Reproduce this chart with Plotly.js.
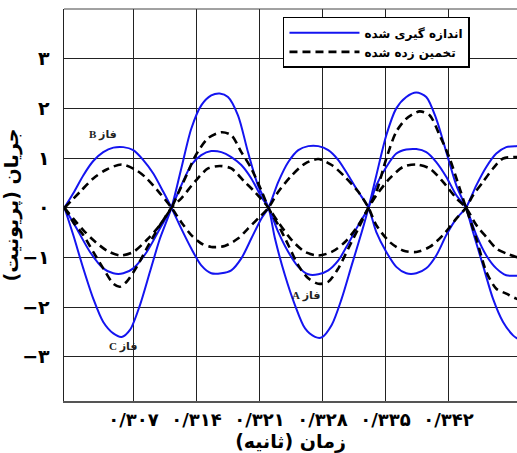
<!DOCTYPE html>
<html><head><meta charset="utf-8">
<script src="https://cdn.plot.ly/plotly-3.0.1.min.js"></script>
<style>html,body{margin:0;padding:0;background:#fff}</style>
</head><body><div id="chart" style="width:517px;height:453px"></div>
<script>
// tick labels
const xTickVals = [0.307, 0.314, 0.321, 0.328, 0.335, 0.342];
const xTickText = ['۰/۳۰۷', '۰/۳۱۴', '۰/۳۲۱', '۰/۳۲۸', '۰/۳۳۵', '۰/۳۴۲'];
const yTickVals = [-3, -2, -1, 0, 1, 2, 3];
const yTickText = ['−۳', '−۲', '−۱', '۰', '۱', '۲', '۳'];

// measured (solid blue)
const measBx = [0.29933,0.30031,0.30142,0.30253,0.30364,0.30476,0.30587,0.30698,0.30809,0.30920,0.31031,0.31122,
  0.31231,0.31342,0.31453,0.31564,0.31676,0.31787,0.31898,0.32009,0.32120,0.32200,
  0.32309,0.32420,0.32531,0.32642,0.32753,0.32864,0.32976,0.33087,0.33198,0.33311,
  0.33398,0.33509,0.33620,0.33731,0.33842,0.33953,0.34064,0.34176,0.34287,0.34394,
  0.34509,0.34620,0.34731,0.34842,0.34953,0.35000];
const measBy = [0,0.29,0.65,0.94,1.12,1.21,1.22,1.16,0.96,0.69,0.32,0,
  -0.42,-0.82,-1.16,-1.32,-1.32,-1.26,-1.02,-0.62,-0.22,0,
  0.52,0.92,1.16,1.24,1.24,1.16,0.96,0.65,0.32,0,
  -0.49,-0.89,-1.19,-1.32,-1.32,-1.22,-0.96,-0.55,-0.22,0,
  0.45,0.82,1.09,1.22,1.24,1.24];

const measAx = [0.29933,0.30069,0.30217,0.30364,0.30476,0.30587,0.30698,0.30847,0.30994,0.31122,
  0.31231,0.31342,0.31453,0.31564,0.31676,0.31787,0.31898,0.32009,0.32120,0.32200,
  0.32309,0.32420,0.32531,0.32642,0.32753,0.32864,0.32976,0.33087,0.33198,0.33311,
  0.33398,0.33509,0.33620,0.33731,0.33842,0.33953,0.34064,0.34176,0.34287,0.34394,
  0.34509,0.34620,0.34731,0.34842,0.34953,0.35000];
const measAy = [0,-0.42,-0.89,-1.22,-1.32,-1.32,-1.22,-0.89,-0.42,0,
  0.45,0.86,1.06,1.14,1.12,1.02,0.86,0.59,0.22,0,
  -0.49,-0.89,-1.19,-1.34,-1.34,-1.26,-1.06,-0.72,-0.35,0,
  0.45,0.82,1.09,1.17,1.18,1.12,0.92,0.62,0.25,0,
  -0.55,-0.96,-1.22,-1.36,-1.37,-1.37];

const measCx = [0.29933,0.30031,0.30142,0.30253,0.30364,0.30476,0.30569,0.30661,0.30772,0.30883,0.30994,0.31122,
  0.31231,0.31342,0.31453,0.31564,0.31658,0.31750,0.31861,0.31972,0.32083,0.32200,
  0.32272,0.32383,0.32494,0.32606,0.32717,0.32791,0.32902,0.33013,0.33124,0.33236,0.33311,
  0.33398,0.33509,0.33620,0.33731,0.33842,0.33953,0.34064,0.34176,0.34287,0.34394,
  0.34472,0.34583,0.34694,0.34806,0.34917,0.34953,0.35000];
const measCy = [0,-0.55,-1.22,-1.83,-2.30,-2.53,-2.60,-2.46,-1.96,-1.29,-0.62,0,
  0.79,1.59,2.06,2.26,2.30,2.23,1.86,1.12,0.45,0,
  -0.62,-1.36,-1.96,-2.43,-2.60,-2.61,-2.36,-1.83,-1.16,-0.49,0,
  0.65,1.46,2.00,2.23,2.32,2.23,1.79,1.12,0.45,0,
  -0.49,-1.16,-1.83,-2.30,-2.57,-2.62,-2.66];

// estimated (dashed black)
const estBx = [0.29933,0.30106,0.30253,0.30402,0.30569,0.30736,0.30847,0.30994,0.31122,
  0.31231,0.31342,0.31453,0.31564,0.31713,0.31861,0.31972,0.32083,0.32200,
  0.32309,0.32458,0.32606,0.32753,0.32902,0.33050,0.33198,0.33311,
  0.33398,0.33547,0.33694,0.33842,0.33991,0.34139,0.34287,0.34394,
  0.34472,0.34583,0.34694,0.34806,0.35000];
const estBy = [0,0.32,0.59,0.77,0.87,0.75,0.59,0.29,0,
  -0.29,-0.55,-0.72,-0.79,-0.77,-0.62,-0.42,-0.22,0,
  0.32,0.65,0.89,0.98,0.86,0.62,0.32,0,
  -0.35,-0.69,-0.86,-0.89,-0.79,-0.55,-0.22,0,
  0.25,0.52,0.79,0.99,1.02];

const estAx = [0.29933,0.30031,0.30142,0.30253,0.30402,0.30550,0.30698,0.30847,0.30994,0.31122,
  0.31231,0.31380,0.31528,0.31658,0.31787,0.31936,0.32047,0.32200,
  0.32309,0.32458,0.32606,0.32753,0.32902,0.33050,0.33198,0.33311,
  0.33398,0.33547,0.33694,0.33842,0.33991,0.34139,0.34287,0.34394,
  0.34509,0.34620,0.34731,0.34842,0.34953,0.35000];
const estAy = [0,-0.22,-0.45,-0.65,-0.86,-0.96,-0.89,-0.65,-0.35,0,
  0.19,0.52,0.79,0.84,0.79,0.52,0.32,0,
  -0.29,-0.65,-0.89,-0.96,-0.89,-0.69,-0.35,0,
  0.25,0.59,0.82,0.87,0.79,0.52,0.19,0,
  -0.35,-0.59,-0.82,-0.92,-0.99,-1.00];

const estCx = [0.29933,0.30031,0.30142,0.30253,0.30364,0.30476,0.30550,0.30624,0.30736,0.30847,0.30994,0.31122,
  0.31194,0.31306,0.31380,0.31528,0.31676,0.31787,0.31898,0.32009,0.32120,0.32200,
  0.32309,0.32420,0.32531,0.32642,0.32753,0.32864,0.32976,0.33087,0.33198,0.33311,
  0.33398,0.33509,0.33620,0.33731,0.33880,0.33991,0.34102,0.34213,0.34324,0.34394,
  0.34509,0.34620,0.34731,0.34842,0.34953,0.35000];
const estCy = [0,-0.29,-0.55,-0.89,-1.22,-1.53,-1.59,-1.49,-1.19,-0.82,-0.35,0,
  0.28,0.72,1.02,1.40,1.52,1.46,1.12,0.79,0.35,0,
  -0.35,-0.75,-1.16,-1.42,-1.53,-1.49,-1.22,-0.82,-0.42,0,
  0.32,0.99,1.53,1.79,1.94,1.86,1.46,0.99,0.39,0,
  -0.62,-1.29,-1.63,-1.73,-1.83,-1.85];

const measName = 'اندازه گیری شده';
const estName = 'تخمین زده شده';
const phaseLabels = ['\u202Bفاز B\u202C', '\u202Bفاز C\u202C', '\u202Bفاز A\u202C'];
const phaseLabelX = [0.30361, 0.30589, 0.32622];
const phaseLabelY = [1.48, -2.79, -1.76];

const blue = '#1414f0';
const measLine = {color: blue, width: 2, shape: 'spline', smoothing: 0.8};
const estLine = {color: '#000', width: 2.6, dash: '8px,5px', shape: 'spline', smoothing: 0.8};

const traces = [
  {x: measBx, y: measBy, mode: 'lines', line: measLine, name: measName, legendgroup: 'm', showlegend: true},
  {x: measAx, y: measAy, mode: 'lines', line: measLine, name: measName, legendgroup: 'm', showlegend: false},
  {x: measCx, y: measCy, mode: 'lines', line: measLine, name: measName, legendgroup: 'm', showlegend: false},
  {x: estBx, y: estBy, mode: 'lines', line: estLine, name: estName, legendgroup: 'e', showlegend: true},
  {x: estAx, y: estAy, mode: 'lines', line: estLine, name: estName, legendgroup: 'e', showlegend: false},
  {x: estCx, y: estCy, mode: 'lines', line: estLine, name: estName, legendgroup: 'e', showlegend: false}
];

const annotations = phaseLabels.map((t, i) => ({
  x: phaseLabelX[i], y: phaseLabelY[i], xref: 'x', yref: 'y', text: t, showarrow: false,
  font: {family: 'Liberation Serif, DejaVu Sans', size: 11, color: '#222', weight: 'bold'}
}));

const layout = {
  width: 517, height: 453,
  margin: {l: 64, r: 0, t: 9, b: 52},
  paper_bgcolor: '#fff', plot_bgcolor: '#fff',
  showlegend: true,
  legend: {
    x: 0.4834, y: 0.98, xanchor: 'left', yanchor: 'top',
    bgcolor: '#fff', bordercolor: '#000', borderwidth: 1.5,
    font: {family: 'DejaVu Sans', size: 12, color: '#000', weight: 'bold'},
    itemwidth: 70, tracegroupgap: 0
  },
  xaxis: {
    range: [0.29928, 0.34961],
    tickvals: xTickVals, ticktext: xTickText,
    showgrid: true, gridcolor: '#222', gridwidth: 1,
    zeroline: false, showline: true, linecolor: '#555', linewidth: 2,
    ticks: '', ticklabelstandoff: 1,
    tickfont: {family: 'DejaVu Sans', size: 18, color: '#000', weight: 'bold'},
    title: {text: 'زمان (ثانیه)\u200F', standoff: 7,
      font: {family: 'DejaVu Sans', size: 19, color: '#000', weight: 'bold'}},
    fixedrange: true
  },
  yaxis: {
    range: [-3.89, 4.0],
    tickvals: yTickVals, ticktext: yTickText,
    showgrid: true, gridcolor: '#222', gridwidth: 1,
    zeroline: false, showline: true, linecolor: '#222', linewidth: 1.5,
    ticks: '', ticklabelstandoff: 9,
    tickfont: {family: 'DejaVu Sans', size: 19, color: '#000', weight: 'bold'},
    title: {text: 'جریان (پریونیت)\u200F', standoff: 0,
      font: {family: 'DejaVu Sans', size: 19, color: '#000', weight: 'bold'}},
    fixedrange: true
  },
  shapes: [
    {type: 'line', xref: 'paper', yref: 'paper', x0: 0, x1: 1, y0: 1, y1: 1,
     line: {color: '#444', width: 1}}
  ],
  annotations: annotations
};

Plotly.newPlot('chart', traces, layout, {displayModeBar: false, staticPlot: true});
</script>
</body></html>
